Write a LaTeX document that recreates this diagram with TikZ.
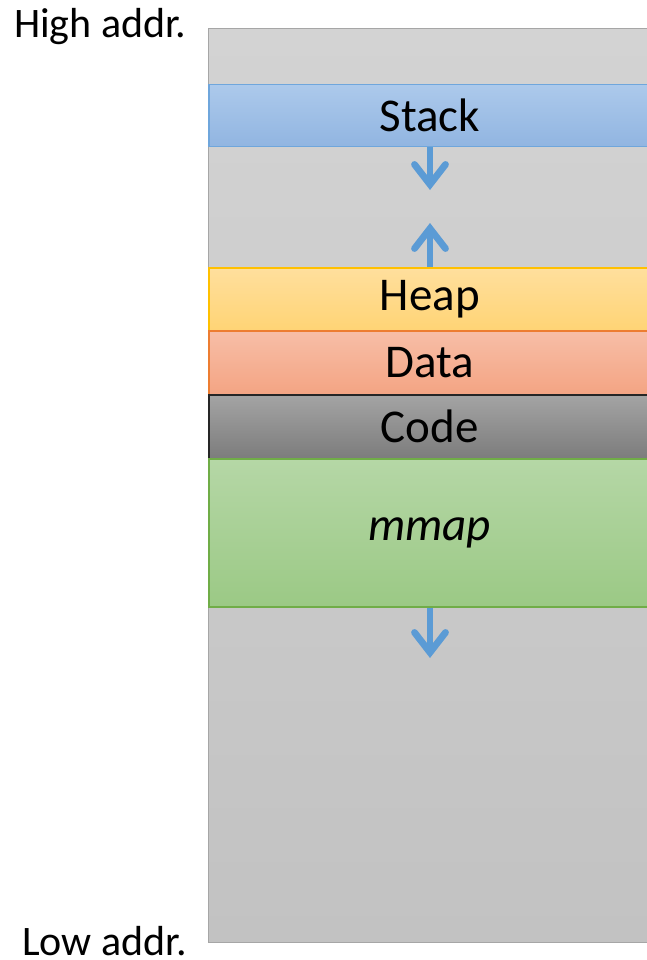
\documentclass[tikz,border=0pt]{standalone}
\usepackage{fontspec}
\setmainfont{Carlito}
\usetikzlibrary{arrows.meta}

\definecolor{arrowblue}{HTML}{5B9BD5}
\definecolor{memtop}{HTML}{D3D3D3}
\definecolor{membot}{HTML}{C2C2C2}
\definecolor{memline}{HTML}{A6A6A6}
\definecolor{stackline}{HTML}{6FA6DC}
\definecolor{stacktop}{HTML}{ACC9EB}
\definecolor{stackbot}{HTML}{91B5E1}
\definecolor{heapline}{HTML}{FFC000}
\definecolor{heaptop}{HTML}{FFDF9D}
\definecolor{heapbot}{HTML}{FFD475}
\definecolor{dataline}{HTML}{ED7D31}
\definecolor{datatop}{HTML}{F7BEA7}
\definecolor{databot}{HTML}{F4A483}
\definecolor{codeline}{HTML}{262626}
\definecolor{codetop}{HTML}{A4A4A4}
\definecolor{codebot}{HTML}{7C7C7C}
\definecolor{mmapline}{HTML}{70AD47}
\definecolor{mmaptop}{HTML}{B5D7A6}
\definecolor{mmapbot}{HTML}{9BC985}

\tikzset{
  segment/.style={draw, line width=1.5pt, rectangle, minimum width=442pt,
    anchor=north west, inner sep=0pt, font=\fontsize{47}{50}\selectfont},
  addrlabel/.style={anchor=base west, inner sep=0pt, text depth=0pt,
    font=\fontsize{42}{46}\selectfont},
  growth/.style={draw=arrowblue, line width=6.8pt,
    -{Straight Barb[length=20pt, width=31pt, line cap=round, line join=miter]}}
}

\begin{document}
\begin{tikzpicture}[x=1pt, y=-1pt]
  \useasboundingbox (0,0) rectangle (647,960);
  \begin{scope}
    \clip (0,0) rectangle (647,960);

    % whole address space
    \node[draw=memline, line width=1.2pt, top color=memtop, bottom color=membot,
          minimum width=450pt, minimum height=914pt, anchor=north west,
          inner sep=0pt] (space) at (208,28) {};

    % memory segments, top to bottom
    \node[segment, draw=stackline, top color=stacktop, bottom color=stackbot,
          minimum height=62pt] (stack) at (208,84) {Stack};
    \node[segment, draw=heapline, top color=heaptop, bottom color=heapbot,
          minimum height=63pt] (heap) at (208,267) {Heap};
    \node[segment, draw=dataline, top color=datatop, bottom color=databot,
          minimum height=64pt] (data) at (208,330) {Data};
    \node[segment, draw=codeline, top color=codetop, bottom color=codebot,
          minimum height=64pt] (code) at (208,394) {Code};
    \node[segment, draw=mmapline, top color=mmaptop, bottom color=mmapbot,
          minimum height=148pt, font=\fontsize{47}{50}\selectfont\itshape] (mmap) at (208,458) {mmap};
  \end{scope}

  % growth directions
  \coordinate (stackend) at (430,190);
  \coordinate (heapend) at (430,223);
  \coordinate (mmapend) at (430,658);
  \draw[growth] (stack.south -| stackend) -- (stackend);
  \draw[growth] (heap.north -| heapend) -- (heapend);
  \draw[growth] (mmap.south -| mmapend) -- (mmapend);

  % address labels
  \node[addrlabel] (high) at (14,38) {High addr.};
  \node[addrlabel] (low) at (22,955) {Low addr.};
\end{tikzpicture}
\end{document}
